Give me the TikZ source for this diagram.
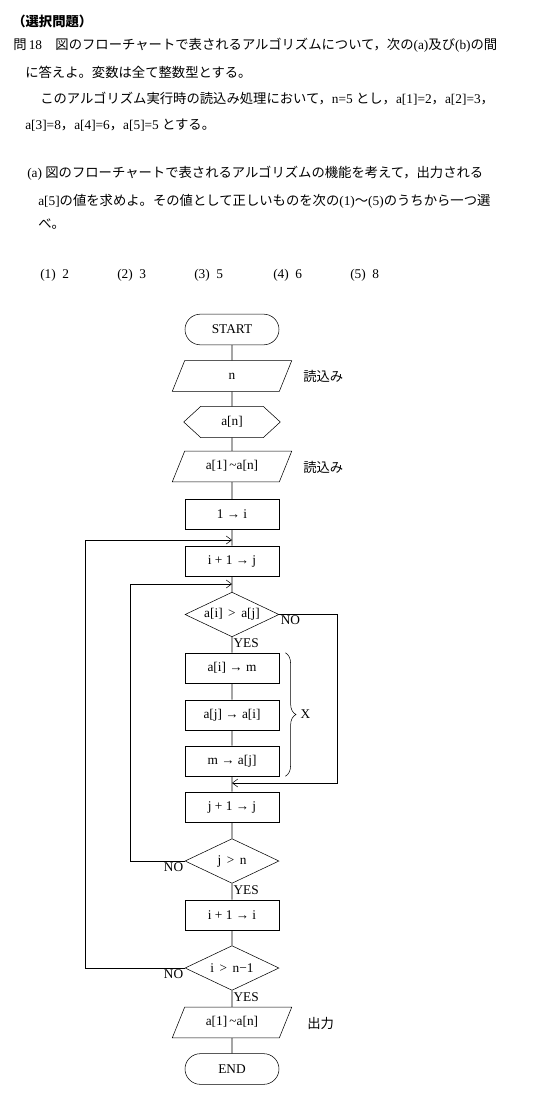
\documentclass[tikz,border=0pt]{standalone}
\usepackage{fontspec}
\setmainfont{Liberation Serif}
\newfontfamily\jp{Noto Sans CJK JP}
\usetikzlibrary{arrows.meta,positioning,shapes.geometric,shapes.misc,decorations.pathreplacing}

\newcommand{\ja}[1]{{\jp #1}}

\tikzset{
  proc/.style={draw, minimum width=70.5pt, minimum height=22.5pt, inner sep=0pt},
  term/.style={draw, rounded rectangle, minimum width=70.5pt, minimum height=23pt, inner sep=0pt},
  io/.style={draw, trapezium, trapezium left angle=68, trapezium right angle=112,
    text width=60pt, align=center, text height=8pt, text depth=3pt,
    inner xsep=5.5pt, inner ysep=6pt},
  prep/.style={minimum width=72pt, minimum height=23pt, inner sep=0pt},
  dec/.style={draw, diamond, aspect=2.1, minimum width=70.5pt, minimum height=33.5pt, inner sep=0pt},
  merge/.style={-{Straight Barb[length=4pt,width=6pt]}},
  txt/.style={anchor=west, inner sep=0pt},
  lbl/.style={inner sep=1pt}
}

\begin{document}
\begin{tikzpicture}[x=0.75pt, y=-0.75pt, font=\fontsize{10}{12}\selectfont]

\fill[white] (0,0) rectangle (550,1106);
\useasboundingbox (0,0) rectangle (550,1106);

%--------------------
% Question text
%--------------------
\node[txt] (hdr) at (12,21) {\jp\bfseries （選択問題）};
\node[txt] (q1) at (13,45) {\ja{問}\,18\ja{　図のフローチャートで表されるアルゴリズムについて，次の}(a)\ja{及び}(b)\ja{の間}};
\node[txt] (q2) at (25,72) {\ja{に答えよ。変数は全て整数型とする。}};
\node[txt] (q3) at (40,98.5) {\ja{このアルゴリズム実行時の読込み処理において，}n=5 \ja{とし，}a[1]=2\ja{，}a[2]=3\ja{，}};
\node[txt] (q4) at (25,125) {a[3]=8\ja{，}a[4]=6\ja{，}a[5]=5 \ja{とする。}};

\node[txt] (qa1) at (27,173) {(a) \ja{図のフローチャートで表されるアルゴリズムの機能を考えて，出力される}};
\node[txt] (qa2) at (38,201) {a[5]\ja{の値を求めよ。その値として正しいものを次の}(1)\ja{～}(5)\ja{のうちから一つ選}};
\node[txt] (qa3) at (38,224) {\ja{べ。}};

% choices
\node[txt] (c1) at (40,275) {(1)\ \ 2};
\node[txt] (c2) at (117,275) {(2)\ \ 3};
\node[txt] (c3) at (194,275) {(3)\ \ 5};
\node[txt] (c4) at (273,275) {(4)\ \ 6};
\node[txt] (c5) at (350,275) {(5)\ \ 8};

%--------------------
% Flowchart
%--------------------
\node[term] (start) at (232,329.5) {START};
\node[io]   (readn) at (232,376) {n};
\node[prep] (arr)   at (232,422) {a[n]};
\node[io]   (reada) at (232,466.5) {a[1]\,\textasciitilde a[n]};
\node[proc] (initi) at (232,514.5) {1 → i};
\node[proc] (setj)  at (232,561) {i + 1 → j};
\node[dec]  (cmp)   at (232,614.5) {a[i] \,>\, a[j]};
\node[proc] (swapa) at (232,668) {a[i] → m};
\node[proc] (swapb) at (232,715) {a[j] → a[i]};
\node[proc] (swapc) at (232,761) {m → a[j]};
\node[proc] (incj)  at (232,807) {j + 1 → j};
\node[dec]  (endj)  at (232,861) {j \,>\, n};
\node[proc] (inci)  at (232,915) {i + 1 → i};
\node[dec]  (endi)  at (232,968) {i \,>\, n−1};
\node[io]   (outa)  at (232,1022.5) {a[1]\,\textasciitilde a[n]};
\node[term] (stop)  at (232,1069) {END};

% hexagon round a[n]
\draw (arr.west) -- ([xshift=12.75pt]arr.north west) -- ([xshift=-12.75pt]arr.north east)
  -- (arr.east) -- ([xshift=-12.75pt]arr.south east) -- ([xshift=12.75pt]arr.south west) -- cycle;

% side notes
\node[txt] (nt1) at (303,376) {\ja{読込み}};
\node[txt] (nt2) at (303,467) {\ja{読込み}};
\node[txt] (nt3) at (307,1023) {\ja{出力}};

% main line
\draw (start) -- (readn) -- (arr) -- (reada) -- (initi) -- (setj) -- (cmp)
  -- (swapa) -- (swapb) -- (swapc) -- (incj) -- (endj) -- (inci) -- (endi)
  -- (outa) -- (stop);

% join points
\coordinate (joinI) at (232,540);
\coordinate (joinJ) at (232,584);
\coordinate (joinN) at (232,783);

% loops
\draw[merge] (endi.west) -- ++(-99,0) |- (joinI);
\draw[merge] (endj.west) -- ++(-54,0) |- (joinJ);
\draw[merge] (cmp.east) -- ++(58,0) |- (joinN);

% YES / NO
\node[lbl, anchor=north west] (cmpno)  at (cmp.east) {NO};
\node[lbl, anchor=north west] (cmpyes) at (cmp.south) {YES};
\node[lbl, anchor=north east] (jno)    at (endj.west) {NO};
\node[lbl, anchor=north west] (jyes)   at (endj.south) {YES};
\node[lbl, anchor=north east] (ino)    at (endi.west) {NO};
\node[lbl, anchor=north west] (iyes)   at (endi.south) {YES};

% brace X
\draw[decorate, decoration={brace, amplitude=8pt}]
  ([xshift=4.5pt]swapa.north east) -- node[right=8pt] (xlbl) {X} ([xshift=4.5pt]swapc.south east);

\end{tikzpicture}
\end{document}
